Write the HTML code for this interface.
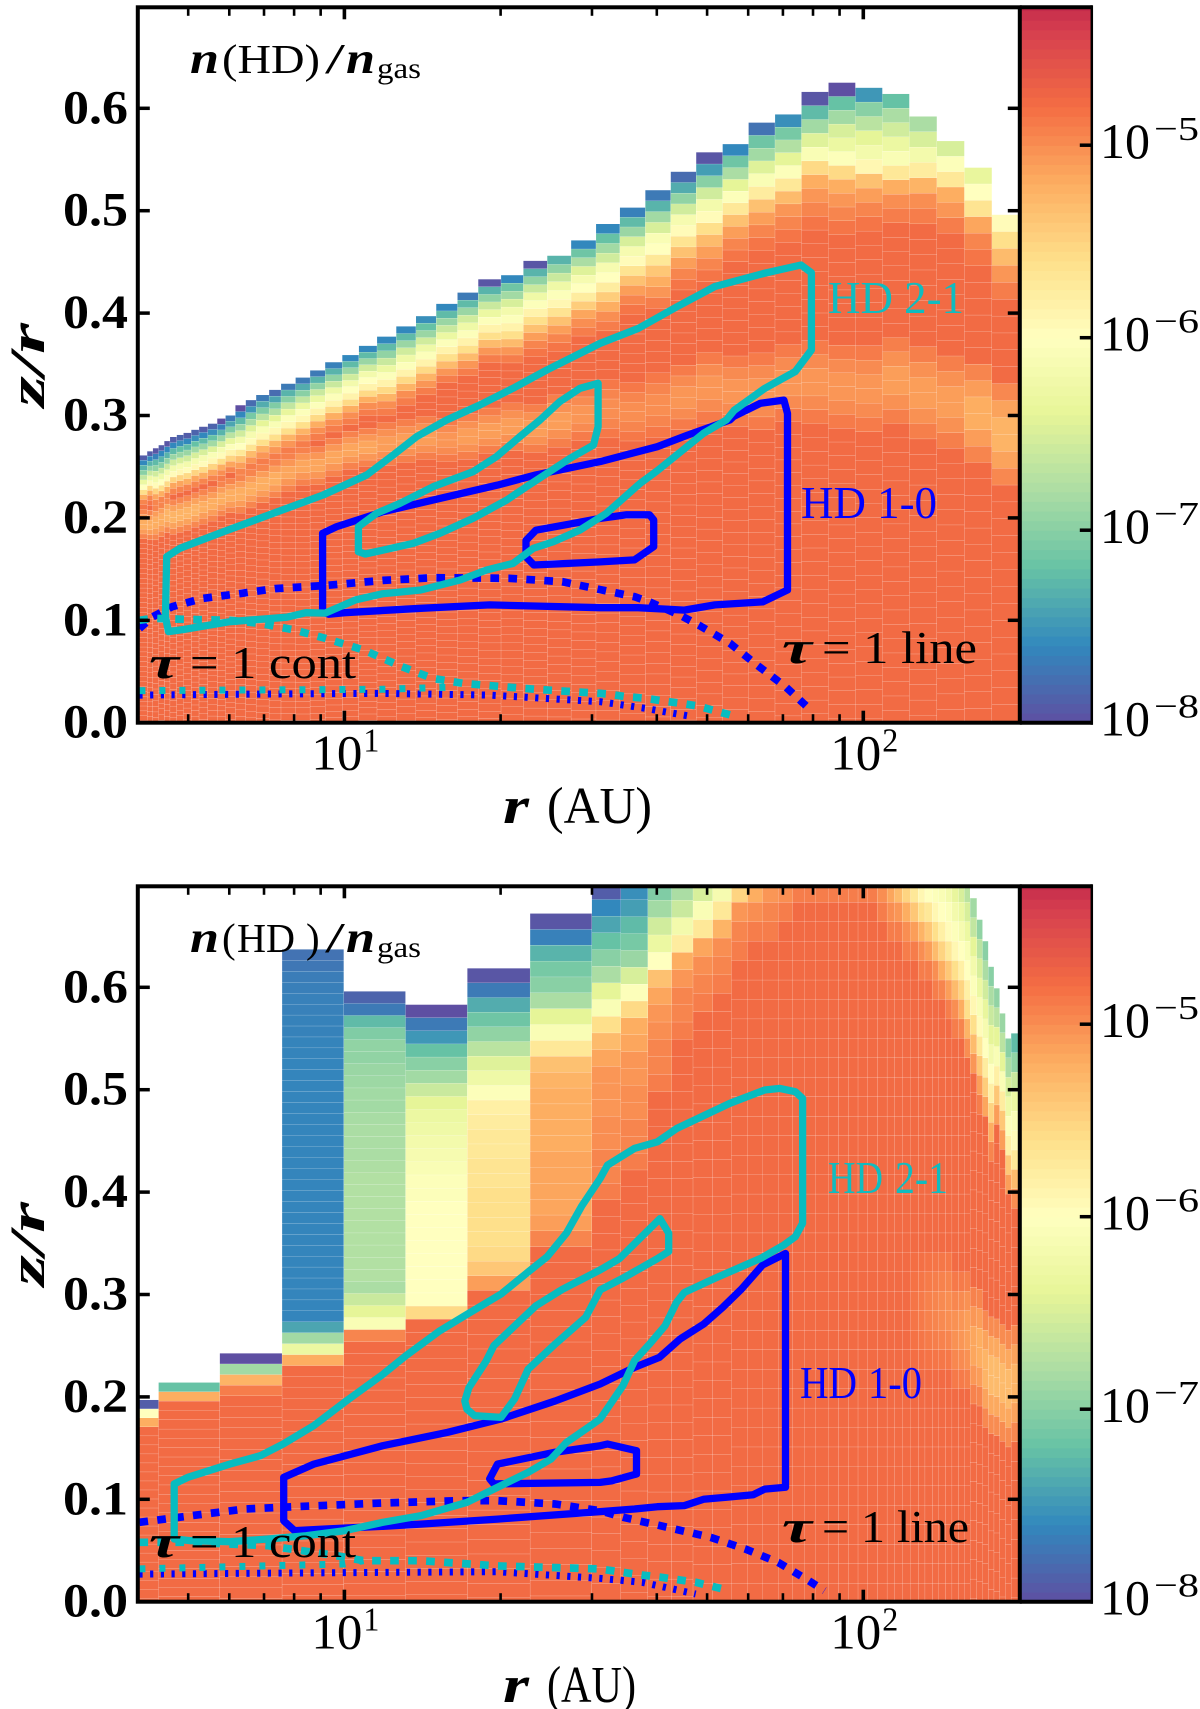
<!DOCTYPE html>
<html lang="en">
<head>
<meta charset="utf-8">
<title>HD abundance maps</title>
<style>
html,body{margin:0;padding:0;background:#fff;}
svg{display:block;}
text{font-family:"Liberation Serif","DejaVu Serif",serif;fill:#000;}
.b{font-weight:bold;}
.bi{font-weight:bold;font-style:italic;}
</style>
</head>
<body>
<svg id="figure" xmlns="http://www.w3.org/2000/svg" width="1200" height="1709" viewBox="0 0 1200 1709">
<defs>
<clipPath id="clip-top"><rect x="137.8" y="7.3" width="882" height="715.4"/></clipPath>
<clipPath id="clip-bot"><rect x="137.8" y="886.3" width="882" height="715.4"/></clipPath>
</defs>
<g id="panel-top"></g>
<g id="panel-bot"></g>

<g>
<text class="bi" x="190" y="73" font-size="44" textLength="29" lengthAdjust="spacingAndGlyphs">n</text>
<text x="222" y="73" font-size="41" textLength="98" lengthAdjust="spacingAndGlyphs">(HD)</text>
<text x="325" y="73" font-size="42" textLength="20" lengthAdjust="spacingAndGlyphs">/</text>
<text class="bi" x="346" y="73" font-size="44" textLength="29" lengthAdjust="spacingAndGlyphs">n</text>
<text x="377" y="78" font-size="30" textLength="44" lengthAdjust="spacingAndGlyphs">gas</text>
<text x="828" y="313" font-size="46" textLength="136" lengthAdjust="spacingAndGlyphs" style="fill:#10bcc0">HD 2-1</text>
<text x="801" y="518" font-size="46" textLength="136" lengthAdjust="spacingAndGlyphs" style="fill:#0000ff">HD 1-0</text>
<text class="bi" x="149" y="678" font-size="46" textLength="30" lengthAdjust="spacingAndGlyphs">τ</text>
<text x="190" y="678" font-size="46" textLength="166" lengthAdjust="spacingAndGlyphs">= 1 cont</text>
<text class="bi" x="782" y="663" font-size="46" textLength="30" lengthAdjust="spacingAndGlyphs">τ</text>
<text x="822" y="663" font-size="46" textLength="155" lengthAdjust="spacingAndGlyphs">= 1 line</text>
<text class="bi" x="503" y="823" font-size="52" textLength="26" lengthAdjust="spacingAndGlyphs">r</text>
<text x="547" y="823" font-size="52" textLength="105" lengthAdjust="spacingAndGlyphs">(AU)</text>
<text class="bi" transform="translate(44,407) rotate(-90)" font-size="50" textLength="84" lengthAdjust="spacingAndGlyphs">z/r</text>
</g>

<g>
<text class="bi" x="190" y="952" font-size="44" textLength="29" lengthAdjust="spacingAndGlyphs">n</text>
<text x="222" y="952" font-size="41">(</text>
<text x="237" y="952" font-size="41" textLength="58" lengthAdjust="spacingAndGlyphs">HD</text>
<text x="306" y="952" font-size="41">)</text>
<text x="325" y="952" font-size="42" textLength="20" lengthAdjust="spacingAndGlyphs">/</text>
<text class="bi" x="346" y="952" font-size="44" textLength="29" lengthAdjust="spacingAndGlyphs">n</text>
<text x="377" y="957" font-size="30" textLength="44" lengthAdjust="spacingAndGlyphs">gas</text>
<text x="828" y="1193" font-size="46" textLength="55" lengthAdjust="spacingAndGlyphs" style="fill:#10bcc0">HD</text>
<text x="895" y="1193" font-size="46" textLength="53" lengthAdjust="spacingAndGlyphs" style="fill:#10bcc0">2-1</text>
<text x="800" y="1398" font-size="46" textLength="57" lengthAdjust="spacingAndGlyphs" style="fill:#0000ff">HD</text>
<text x="868" y="1398" font-size="46" textLength="54" lengthAdjust="spacingAndGlyphs" style="fill:#0000ff">1-0</text>
<text class="bi" x="149" y="1557" font-size="46" textLength="30" lengthAdjust="spacingAndGlyphs">τ</text>
<text x="190" y="1557" font-size="46" textLength="166" lengthAdjust="spacingAndGlyphs">= 1 cont</text>
<text class="bi" x="782" y="1542" font-size="46" textLength="30" lengthAdjust="spacingAndGlyphs">τ</text>
<text x="822" y="1542" font-size="46" textLength="147" lengthAdjust="spacingAndGlyphs">= 1 line</text>
<text class="bi" x="503" y="1702" font-size="52" textLength="26" lengthAdjust="spacingAndGlyphs">r</text>
<text x="547" y="1702" font-size="52" textLength="89" lengthAdjust="spacingAndGlyphs">(AU)</text>
<text class="bi" transform="translate(44,1286) rotate(-90)" font-size="50" textLength="84" lengthAdjust="spacingAndGlyphs">z/r</text>
</g>
</svg>

<script>
/* ---------- shared axes ---------- */
const yTickValues = [0, 0.1, 0.2, 0.3, 0.4, 0.5, 0.6];
const yTickLabels = ['0.0', '0.1', '0.2', '0.3', '0.4', '0.5', '0.6'];
const xMajorValues = [10, 100];
const xMajorLabels = ['1', '2'];
const xMinorValues = [5, 6, 7, 8, 9, 20, 30, 40, 50, 60, 70, 80, 90];
const cbarTickExponents = [-5, -6, -7, -8];
const spectralR = [[94,79,162],[50,136,189],[102,194,165],[171,221,164],[230,245,152],[255,255,191],[254,224,139],[253,174,97],[244,109,67],[213,62,79],[158,1,66]];
const bandShape = [0.4, 0.75, 1, 1, 0.75, 0.4];
const bulkLog = -4.78;

/* ---------- top panel heatmap: column edges in log10(r/AU), ceilings in z/r, cell heights ---------- */
const topLogR = [.602,.620,.631,.642,.653,.664,.677,.690,.705,.720,.737,.755,.771,.790,.810,.830,.855,.878,.906,.934,.963,.996,1.028,1.063,1.100,1.138,1.177,1.218,1.258,1.302,1.345,1.391,1.437,1.485,1.531,1.580,1.629,1.678,1.729,1.779,1.830,1.881,1.933,1.985,2.037,2.089,2.142,2.195,2.248,2.301];
const topCeil = [.261,.265,.268,.271,.275,.279,.281,.283,.286,.289,.292,.297,.300,.310,.315,.320,.325,.331,.337,.344,.352,.359,.368,.377,.387,.397,.409,.420,.433,.437,.451,.456,.471,.487,.503,.520,.538,.557,.565,.586,.594,.616,.625,.620,.614,.592,.568,.542,.496];
const topStep = [.0048,.0048,.0056,.0056,.0056,.0056,.0056,.0056,.0056,.0056,.0056,.0056,.0056,.0062,.0062,.0062,.0062,.0062,.0062,.0062,.0062,.0062,.0062,.007,.007,.007,.007,.0074,.0074,.0078,.0078,.0085,.0085,.0095,.0095,.0105,.0105,.0115,.0115,.0125,.0125,.0135,.0135,.014,.014,.015,.015,.016,.0165];
const topBandZ = [.193,.195,.197,.199,.201,.203,.205,.207,.209,.212,.215,.218,.221,.224,.228,.233,.238,.245,.25,.254,.258,.263,.268,.272,.274,.276,.277,.279,.282,.285,.288,.292,.297,.302,.308,.313,.318,.322,.325,.327,.329,.331,.331,.330,.328,.325,.318,.305,.285];
const topBandPeak = [-5.2,-5.2,-5.2,-5.2,-5.25,-5.25,-5.25,-5.25,-5.25,-5.2,-5.2,-5.2,-5.2,-5.2,-5.2,-5.2,-5.2,-5.15,-5.15,-5.15,-5.15,-5.15,-5.15,-5.1,-5.1,-5.1,-5.05,-5.1,-5.1,-5.1,-5.1,-5.1,-5.05,-5,-5,-5,-5.05,-5.05,-5.05,-5.05,-5.05,-5.05,-5.05,-5.05,-5.1,-5.1,-5.1,-5.2,-5.25];
const topProfiles = [
[-7.9,-7.6,-7.3,-7,-6.65,-6.3,-6,-5.6,-5.2,-4.95,-4.85],
[-7.9,-7.6,-7.3,-6.95,-6.6,-6.25,-5.95,-5.55,-5.2,-4.95,-4.85],
[-7.95,-7.65,-7.25,-6.95,-6.55,-6.2,-5.95,-5.5,-5.15,-4.95],
[-7.9,-7.6,-7.3,-7,-6.6,-6.25,-6,-5.6,-5.2,-4.95],
[-7.95,-7.6,-7.3,-6.95,-6.6,-6.2,-5.95,-5.55,-5.2,-4.95],
[-7.9,-7.6,-7.25,-6.9,-6.55,-6.2,-5.95,-5.5,-5.15,-4.95],
[-7.85,-7.55,-7.2,-6.9,-6.5,-6.15,-5.9,-5.5,-5.15,-4.95],
[-7.9,-7.6,-7.25,-6.9,-6.55,-6.2,-5.95,-5.55,-5.2,-4.95],
[-7.85,-7.55,-7.2,-6.85,-6.5,-6.15,-5.9,-5.5,-5.15,-4.95],
[-7.9,-7.6,-7.25,-6.9,-6.5,-6.15,-5.95,-5.55,-5.2,-4.95],
[-7.85,-7.55,-7.2,-6.85,-6.45,-6.1,-5.9,-5.5,-5.15,-4.95],
[-8,-7.65,-7.3,-6.9,-6.5,-6.15,-5.95,-5.6,-5.2,-5,-4.9],
[-7.7,-7.4,-7.05,-6.7,-6.35,-6.05,-5.85,-5.5,-5.15,-4.95],
[-8,-7.6,-7.25,-6.9,-6.55,-6.2,-6,-5.7,-5.35,-5.1,-4.95],
[-7.8,-7.5,-7.1,-6.8,-6.45,-6.15,-5.95,-5.65,-5.3,-5.05,-4.9],
[-7.7,-7.35,-7.05,-6.7,-6.4,-6.1,-5.9,-5.6,-5.25,-5.05,-4.9],
[-7.8,-7.4,-7.05,-6.75,-6.4,-6.1,-5.9,-5.6,-5.25,-5.05,-4.9],
[-7.7,-7.3,-7,-6.65,-6.35,-6.05,-5.9,-5.6,-5.25,-5.05,-4.9],
[-7.7,-7.35,-7,-6.65,-6.3,-6.05,-5.9,-5.6,-5.25,-5.05,-4.9],
[-7.7,-7.3,-6.95,-6.6,-6.3,-6.05,-5.85,-5.55,-5.2,-5,-4.9],
[-7.65,-7.3,-6.95,-6.6,-6.25,-6.05,-5.85,-5.55,-5.2,-5,-4.9],
[-7.6,-7.25,-6.9,-6.55,-6.2,-6,-5.85,-5.55,-5.2,-5,-4.9],
[-7.6,-7.25,-6.9,-6.55,-6.2,-6,-5.85,-5.55,-5.2,-5,-4.9],
[-7.6,-7.25,-6.95,-6.6,-6.3,-6.05,-5.85,-5.55,-5.25,-5,-4.9],
[-7.6,-7.25,-6.9,-6.55,-6.25,-6.05,-5.85,-5.55,-5.25,-5,-4.9],
[-7.55,-7.2,-6.9,-6.55,-6.25,-6.05,-5.85,-5.55,-5.25,-5.05,-4.9],
[-7.6,-7.25,-6.9,-6.6,-6.3,-6.05,-5.85,-5.6,-5.3,-5.05,-4.9],
[-7.7,-7.25,-6.9,-6.55,-6.25,-6.05,-5.85,-5.6,-5.3,-5.05,-4.9],
[-7.95,-7.3,-6.95,-6.6,-6.3,-6.05,-5.85,-5.6,-5.3,-5.05,-4.9],
[-7.6,-7.15,-6.85,-6.5,-6.2,-6.05,-5.85,-5.6,-5.3,-5.05,-4.9],
[-7.95,-7.3,-6.95,-6.6,-6.25,-6.05,-5.85,-5.6,-5.35,-5.1,-4.95,-4.85],
[-7.3,-6.95,-6.6,-6.25,-6.05,-5.9,-5.65,-5.35,-5.1,-4.95,-4.85],
[-7.6,-7.15,-6.8,-6.45,-6.15,-6,-5.75,-5.45,-5.15,-5,-4.9],
[-7.6,-7.2,-6.85,-6.55,-6.15,-6,-5.75,-5.45,-5.2,-5,-4.9],
[-7.65,-7.25,-6.9,-6.5,-6.15,-5.95,-5.65,-5.35,-5.1,-4.95,-4.85],
[-7.7,-7.3,-6.85,-6.5,-6.1,-6,-5.7,-5.4,-5.2,-5.05,-4.9],
[-7.8,-7.35,-6.95,-6.55,-6.15,-5.95,-5.65,-5.35,-5.1,-4.95,-4.85],
[-7.95,-7.45,-7,-6.55,-6.2,-5.95,-5.6,-5.3,-5.1,-4.95,-4.85],
[-7.6,-7.15,-6.8,-6.4,-6.05,-5.7,-5.35,-5.1,-4.95,-4.85],
[-7.75,-7.15,-6.85,-6.45,-6.1,-5.75,-5.35,-5.1,-4.95,-4.85],
[-7.55,-7.1,-6.75,-6.4,-6.05,-5.7,-5.3,-5.05,-4.95,-4.85],
[-7.95,-7.25,-6.85,-6.45,-6.1,-5.55,-5.2,-5.05,-4.95,-4.85],
[-8,-7.2,-6.85,-6.5,-6.3,-6.05,-5.55,-5.2,-5.05,-4.95,-4.85],
[-7.5,-7,-6.7,-6.4,-6.2,-5.9,-5.35,-5.1,-4.95,-4.85],
[-7.2,-6.8,-6.55,-6.3,-6.1,-5.7,-5.2,-5,-4.9],
[-6.8,-6.5,-6.2,-5.75,-5.25,-5,-4.9],
[-6.5,-6.05,-5.7,-5.2,-5.05,-4.9],
[-6.35,-6,-5.65,-5.15,-4.95,-4.85],
[-5.95,-5.6,-5.3,-5.05,-4.9]
];

/* ---------- bottom panel heatmap ---------- */
const botLogR = [.602,.642,.760,.880,.999,1.118,1.237,1.358,1.477,1.533,1.585,1.631,1.672,1.710,1.746,1.777,1.806,1.836,1.864,1.887,1.908,1.933,1.952,1.972,1.990,2.009,2.027,2.046,2.060,2.075,2.091,2.106,2.119,2.133,2.145,2.159,2.171,2.184,2.195,2.206,2.219,2.230,2.241,2.252,2.263,2.274,2.285,2.301];
const botCeil = [.197,.214,.2425,.637,.596,.583,.6185,.672,.702,.702,.702,.702,.702,.702,.702,.702,.702,.702,.702,.702,.702,.702,.702,.702,.702,.702,.702,.702,.702,.702,.702,.702,.702,.702,.702,.702,.702,.702,.702,.687,.666,.645,.620,.599,.5745,.550,.555];
const botStep = [.0088,.0091,.0104,.0107,.0118,.0128,.0143,.0155,.0163,.0165,.017,.017,.018,.018,.019,.019,.019,.019,.019,.019,.019,.019,.019,.019,.019,.019,.019,.019,.019,.019,.019,.019,.019,.019,.019,.019,.019,.019,.019,.019,.019,.019,.019,.019,.019,.019,.019];
const botBandZ = [.2,.2,.2,.2,.2,.2,.2,.2,.2,.2,.2,.2,.2,.2,.2,.2,.2,.2,.2,.2,.2,.2,.2,.2,.2,.2,.2,.2,.2,.2,.285,.285,.28,.28,.278,.276,.274,.27,.266,.258,.246,.236,.23,.224,.218,.212,.208];
const botBandPeak = [-4.78,-4.78,-4.78,-4.78,-4.78,-4.78,-4.78,-4.78,-4.78,-4.78,-4.78,-4.78,-4.78,-4.78,-4.78,-4.78,-4.78,-4.78,-4.78,-4.78,-4.78,-4.78,-4.78,-4.78,-4.78,-4.78,-4.78,-4.78,-4.78,-4.78,-4.85,-4.88,-4.92,-4.95,-4.98,-5,-5.02,-5.05,-5.1,-5.15,-5.2,-5.25,-5.3,-5.3,-5.3,-5.3,-5.25];
const botProfiles = [
[-7.9,-6,-5.2],
[-7.2,-5.2],
[-8,-6.85,-5.25,-4.9],
[-7.75,-7.72,-7.68,-7.66,-7.65,-7.65,-7.64,-7.64,-7.63,-7.63,-7.62,-7.62,-7.62,-7.62,-7.62,-7.62,-7.62,-7.62,-7.62,-7.62,-7.62,-7.62,-7.62,-7.62,-7.62,-7.62,-7.62,-7.62,-7.62,-7.62,-7.62,-7.62,-7.62,-7.62,-7.4,-6.85,-6.3,-5.2],
[-7.85,-7.7,-7.25,-7.05,-6.95,-6.95,-6.9,-6.88,-6.85,-6.85,-6.82,-6.8,-6.8,-6.8,-6.78,-6.75,-6.75,-6.75,-6.75,-6.75,-6.75,-6.75,-6.75,-6.75,-6.8,-6.6,-6.4,-6.1,-4.95],
[-8,-7.7,-7.5,-7.2,-7,-6.85,-6.6,-6.4,-6.3,-6.25,-6.2,-6.15,-6.1,-6.05,-6.05,-6,-6,-6,-6,-6,-6,-6,-6,-5.55],
[-7.95,-7.7,-7.35,-7.15,-6.95,-6.7,-6.45,-6.25,-6.05,-5.8,-5.75,-5.7,-5.7,-5.65,-5.65,-5.6,-5.6,-5.6,-5.6,-5.55,-5.4,-5.1],
[-7.95,-7.65,-7.3,-7.1,-7,-6.8,-6.4,-6.1,-5.7,-5.35,-5.25,-5.2,-5.2,-5.2,-5.2,-5.15,-5.15,-5.15,-5.15,-5.1,-4.95],
[-7.9,-7.6,-7.4,-7.2,-7,-6.8,-6.4,-6.1,-5.6,-5.3,-5.15,-5.05,-5.05,-5.05,-5,-5,-4.95,-4.95,-4.9],
[-7.55,-7.45,-7.25,-7.1,-6.9,-6.5,-6.05,-5.55,-5.2,-5.15,-5.05,-5.05,-5,-5,-4.95,-4.95,-4.9],
[-7.05,-6.85,-6.55,-6.3,-6,-5.35,-5.15,-5.05,-5,-4.95,-4.95,-4.9],
[-6.8,-6.6,-6.2,-5.75,-5.2,-5.05,-4.95,-4.95,-4.9],
[-6.5,-6.1,-5.7,-5.15,-5,-4.95,-4.9],
[-6.15,-5.7,-5.25,-5,-4.95,-4.9],
[-5.5,-5.05,-4.95,-4.9],
[-5.2,-5,-4.9],
[-5.05,-4.95,-4.9],
[-5,-4.9],
[-4.9],[-4.9],[-4.9],[-4.9],[-4.9],[-4.9],[-4.9],[-4.9],
[-5,-4.9],
[-5.15,-5,-4.9],
[-5.3,-5.05,-4.9],
[-5.5,-5.2,-5,-4.9],
[-5.7,-5.4,-5.1,-4.9],
[-5.9,-5.6,-5.25,-5,-4.9],
[-6,-5.7,-5.4,-5.1,-4.9],
[-6.05,-5.9,-5.6,-5.3,-5,-4.9],
[-6.1,-6,-5.8,-5.5,-5.2,-4.95],
[-6.2,-6.05,-5.95,-5.7,-5.4,-5.1,-4.9],
[-6.35,-6.2,-6.05,-5.9,-5.6,-5.3,-5,-4.9],
[-6.5,-6.3,-6.15,-6,-5.8,-5.5,-5.2,-4.95],
[-6.7,-6.5,-6.3,-6.1,-6,-5.8,-5.6,-5.25,-5],
[-6.85,-6.65,-6.4,-6.2,-6.05,-5.9,-5.6,-5.3,-5.05],
[-6.95,-6.7,-6.5,-6.3,-6.1,-5.95,-5.7,-5.4,-5.1,-4.9],
[-7,-6.8,-6.55,-6.35,-6.15,-6,-5.75,-5.45,-5.15],
[-7,-6.8,-6.6,-6.4,-6.2,-6,-5.8,-5.5,-5.2,-4.95],
[-6.95,-6.7,-6.4,-6.1,-5.8,-5.4,-5.1],
[-6.9,-6.7,-6.4,-6.1,-5.75,-5.4,-5.1],
[-7,-6.8,-6.5,-6.25,-6.05,-5.8,-5.4,-5.1],
[-7.25,-6.95,-6.6,-6.3,-6.1,-5.95,-5.7,-5.3,-5]
];

/* ---------- contours: [log10(r/AU), z/r] ---------- */
const topHd21Outer = [[.6575,.1621],[.683,.1703],[.767,.1865],[.863,.2045],[.959,.2224],[1.043,.2419],[1.094,.2614],[1.139,.2793],[1.197,.2956],[1.261,.3103],[1.325,.3266],[1.390,.3444],[1.493,.3705],[1.566,.385],[1.640,.406],[1.714,.426],[1.751,.431],[1.810,.439],[1.880,.447],[1.900,.4395],[1.900,.364],[1.869,.343],[1.810,.3265],[1.751,.305],[1.736,.2956],[1.692,.2826],[1.603,.2461],[1.570,.2338],[1.505,.2045],[1.454,.1882],[1.403,.1768],[1.364,.1703],[1.325,.1556],[1.274,.1491],[1.223,.1394],[1.147,.1296],[1.074,.126],[1.022,.120],[.963,.107],[.926,.1074],[.889,.103],[.779,.0986],[.690,.091],[.661,.089],[.655,.1035]];
const topHd21Inner = [[1.027,.167],[1.027,.1914],[1.062,.2045],[1.107,.2142],[1.171,.2305],[1.248,.2451],[1.293,.2598],[1.338,.2793],[1.377,.2956],[1.415,.3135],[1.454,.3266],[1.489,.3314],[1.489,.289],[1.480,.2712],[1.435,.2582],[1.390,.2435],[1.351,.2305],[1.313,.2175],[1.248,.1996],[1.184,.185],[1.133,.1752],[1.075,.1686],[1.040,.1647]];
const topHd10Outer = [[.958,.1084],[.958,.185],[.985,.1914],[1.074,.206],[1.184,.219],[1.295,.232],[1.369,.242],[1.493,.255],[1.603,.2695],[1.662,.281],[1.743,.2956],[1.750,.299],[1.802,.312],[1.847,.315],[1.854,.302],[1.854,.1296],[1.806,.118],[1.714,.115],[1.655,.110],[1.566,.1123],[1.493,.1123],[1.280,.115],[1.147,.1117],[1.000,.1074],[.970,.106]];
const topHd10Inner = [[1.350,.162],[1.350,.178],[1.369,.188],[1.442,.1947],[1.493,.1995],[1.544,.203],[1.588,.203],[1.596,.198],[1.596,.172],[1.559,.159],[1.493,.157],[1.365,.154]];
const topTauLine10 = [[.605,.092],[.631,.1035],[.668,.1133],[.727,.1214],[.801,.1263],[.867,.131],[.963,.134],[1.074,.139],[1.170,.1416],[1.317,.141],[1.420,.1377],[1.493,.130],[1.559,.123],[1.588,.118],[1.647,.105],[1.684,.095],[1.743,.0775],[1.795,.0563],[1.850,.0352],[1.902,.0107]];
const topTauLine21 = [[.605,.100],[.631,.102],[.690,.101],[.779,.100],[.838,.097],[.904,.0905],[.963,.0824],[1.037,.071],[1.111,.0547],[1.170,.0433],[1.229,.0384],[1.310,.035],[1.369,.0326],[1.493,.0286],[1.507,.028],[1.544,.0254],[1.581,.0238],[1.614,.0212],[1.647,.019],[1.681,.0163],[1.714,.0117],[1.751,.0065]];
const topTauCont10 = [[.605,.027],[.853,.028],[1.074,.0286],[1.280,.027],[1.493,.0205],[1.581,.014],[1.670,.006]];
const topTauCont21 = [[.605,.0313],[.853,.032],[1.074,.0326],[1.221,.035]];

const botHd21Outer = [[.672,.0612],[.672,.115],[.698,.1214],[.779,.1344],[.838,.1426],[.882,.154],[.941,.172],[1.000,.1947],[1.074,.222],[1.118,.240],[1.184,.2646],[1.243,.2826],[1.302,.3005],[1.354,.322],[1.391,.337],[1.428,.360],[1.457,.386],[1.493,.4134],[1.507,.4264],[1.559,.4427],[1.603,.449],[1.640,.462],[1.743,.4867],[1.810,.4997],[1.839,.5013],[1.869,.498],[1.883,.4915],[1.883,.3695],[1.869,.3564],[1.847,.3483],[1.802,.3353],[1.714,.3158],[1.655,.302],[1.640,.2923],[1.618,.2695],[1.588,.2516],[1.559,.2354],[1.537,.211],[1.493,.1784],[1.465,.1686],[1.428,.1556],[1.398,.1393],[1.354,.1263],[1.295,.1117],[1.236,.097],[1.147,.084],[1.074,.0775],[1.000,.0693],[.926,.0645],[.853,.0612],[.779,.0586],[.705,.0596]];
const botHd21Inner = [[1.251,.1816],[1.236,.188],[1.232,.196],[1.240,.209],[1.273,.235],[1.288,.25],[1.369,.289],[1.420,.305],[1.493,.324],[1.530,.335],[1.608,.374],[1.625,.360],[1.625,.342],[1.603,.335],[1.537,.316],[1.493,.3045],[1.465,.2777],[1.406,.2516],[1.354,.227],[1.328,.198],[1.302,.18]];
const botHd10Outer = [[.883,.1214],[.941,.1344],[1.074,.1523],[1.199,.1654],[1.302,.1784],[1.406,.196],[1.493,.2126],[1.559,.2288],[1.607,.2386],[1.647,.2565],[1.692,.271],[1.729,.2874],[1.765,.3053],[1.806,.3288],[1.850,.340],[1.850,.1117],[1.810,.110],[1.788,.1045],[1.736,.102],[1.692,.100],[1.655,.0938],[1.603,.0928],[1.559,.0905],[1.493,.088],[1.295,.0807],[1.147,.0758],[1.074,.0736],[.963,.071],[.904,.0693],[.883,.079]];
const botHd10Inner = [[1.288,.115],[1.280,.12],[1.295,.1344],[1.406,.146],[1.493,.1523],[1.507,.154],[1.563,.1475],[1.563,.1247],[1.515,.118],[1.493,.1165]];
const botTauLine10 = [[.605,.0775],[.705,.084],[.808,.0905],[.912,.093],[1.074,.0964],[1.221,.0986],[1.295,.0986],[1.406,.0954],[1.493,.0889],[1.537,.0824],[1.603,.0749],[1.706,.0628],[1.773,.0514],[1.836,.0384],[1.895,.0205],[1.925,.0107]];
const botTauLine21 = [[.605,.058],[.705,.058],[.853,.0547],[.985,.0449],[1.037,.040],[1.147,.040],[1.295,.035],[1.493,.032],[1.537,.0286],[1.574,.026],[1.611,.0238],[1.677,.0189],[1.743,.0107]];
const botTauCont10 = [[.605,.027],[1.074,.0286],[1.295,.0293],[1.493,.0228],[1.574,.0189],[1.677,.0075]];
const botTauCont21 = [[.605,.032],[1.000,.0368],[1.037,.040]];

/* ---------- drawing ---------- */
const SVG_NS = 'http://www.w3.org/2000/svg';
const PLOT_LEFT = 137.8, PLOT_RIGHT = 1019.8, CBAR_RIGHT = 1091.8;
const CBAR_TOP_LOG = -4.285;
function xOfLog(v) { return 344.4 + (v - 1) * 518.9; }
function xOfR(r) { return xOfLog(Math.log10(r)); }
function colorOf(logv) {
  const t = Math.max(0, Math.min(1, (logv + 8) / 4)) * 10;
  const i = Math.min(9, Math.floor(t));
  const f = t - i;
  const a = spectralR[i], b = spectralR[i + 1];
  return 'rgb(' + [0, 1, 2].map(function (k) { return Math.round(a[k] + (b[k] - a[k]) * f); }).join(',') + ')';
}
function make(tag, parent, attrs) {
  const el = document.createElementNS(SVG_NS, tag);
  for (const key in attrs) { el.setAttribute(key, attrs[key]); }
  parent.appendChild(el);
  return el;
}
function drawHeatmap(root, yOf, logR, ceil, step, profiles, bandZ, bandPeak, clipId) {
  const g = make('g', root, { 'clip-path': 'url(#' + clipId + ')' });
  
  
  for (let c = 0; c < ceil.length; c++) {
    const x0 = xOfLog(logR[c]), x1 = xOfLog(logR[c + 1]);
    const dz = step[c];
    const lo = bandZ[c] - 3 * dz;
    for (let k = 0; ceil[c] - k * dz > 0; k++) {
      const zTop = ceil[c] - k * dz;
      const zBot = Math.max(0, zTop - dz);
      const zc = (zTop + zBot) / 2;
      let v = bulkLog;
      if (k < profiles[c].length) {
        v = profiles[c][k];
      } else {
        const b = Math.floor((zc - lo) / dz);
        if (b >= 0 && b < bandShape.length) { v = bulkLog + (bandPeak[c] - bulkLog) * bandShape[b]; }
      }
      const cell = make('rect', g, { x: x0.toFixed(2), y: yOf(zTop).toFixed(2), width: (x1 - x0 - 0.2).toFixed(2), height: (yOf(zBot) - yOf(zTop) - 0.2).toFixed(2), fill: colorOf(v) });
      
      
    }
  }
}
function drawLine(parent, yOf, pts, closed, color, width, dash, name) {
  const d = pts.map(function (p, i) { return (i ? 'L' : 'M') + xOfLog(p[0]).toFixed(1) + ' ' + yOf(p[1]).toFixed(1); }).join('') + (closed ? 'Z' : '');
  const attrs = { d: d, fill: 'none', stroke: color, 'stroke-width': width, 'stroke-linejoin': 'round' };
  if (dash) { attrs['stroke-dasharray'] = dash; }
  const path = make('path', parent, attrs);
  
  
}
function label(parent, x, y, str, size, cls, len, name) {
  const attrs = { x: x, y: y, 'font-size': size };
  if (cls) { attrs['class'] = cls; }
  if (len) { attrs.textLength = len; attrs.lengthAdjust = 'spacingAndGlyphs'; }
  const t = make('text', parent, attrs);
  t.textContent = str;
  
  
}
function tick(parent, x1, y1, x2, y2, w, name) {
  const l = make('line', parent, { x1: x1, y1: y1, x2: x2, y2: y2, stroke: '#000', 'stroke-width': w });
  
  
}
function drawPanel(rootId, base, clipId, logR, ceil, step, profiles, bandZ, bandPeak, lines) {
  const root = document.getElementById(rootId);
  const top = base - 715.4;
  const yOf = function (z) { return base - z * 1024; };
  const yCb = function (e) { return base - (e + 8) * 192.5; };

  drawHeatmap(root, yOf, logR, ceil, step, profiles, bandZ, bandPeak, clipId);

  const lineGroup = make('g', root, { 'clip-path': 'url(#' + clipId + ')' });
  
  
  drawLine(lineGroup, yOf, lines.tauCont10, false, '#0000ff', 7, '3.2 7.5', 'tau-1-continuum-hd10');
  drawLine(lineGroup, yOf, lines.tauCont21, false, '#08bcc0', 7, '6 14', 'tau-1-continuum-hd21');
  drawLine(lineGroup, yOf, lines.tauLine10, false, '#0000ff', 7.7, '8.7 9.3', 'tau-1-line-hd10');
  drawLine(lineGroup, yOf, lines.tauLine21, false, '#08bcc0', 7.7, '8.7 9.3', 'tau-1-line-hd21');
  drawLine(lineGroup, yOf, lines.hd10Outer, true, '#0000ff', 7.3, null, 'hd10-contour-outer');
  drawLine(lineGroup, yOf, lines.hd10Inner, true, '#0000ff', 7.3, null, 'hd10-contour-inner');
  drawLine(lineGroup, yOf, lines.hd21Outer, true, '#08bcc0', 7.3, null, 'hd21-contour-outer');
  drawLine(lineGroup, yOf, lines.hd21Inner, true, '#08bcc0', 7.3, null, 'hd21-contour-inner');

  /* colorbar */
  const bar = make('g', root, {});
  
  
  for (let v = -8; v < CBAR_TOP_LOG; v += 0.05) {
    const y1 = Math.max(top, yCb(v + 0.05));
    const seg = make('rect', bar, { x: PLOT_RIGHT, y: y1.toFixed(2), width: CBAR_RIGHT - PLOT_RIGHT, height: (yCb(v) - y1 + 0.6).toFixed(2), fill: colorOf(v + 0.025) });
    
    
  }
  tick(bar, CBAR_RIGHT, top - 2, CBAR_RIGHT, base + 2, 2.5, 'colorbar-right-edge');
  tick(bar, PLOT_RIGHT, top, CBAR_RIGHT, top, 4, 'colorbar-top-edge');
  tick(bar, PLOT_RIGHT, base, CBAR_RIGHT + 1, base, 4, 'colorbar-bottom-edge');
  cbarTickExponents.forEach(function (e) {
    const y = yCb(e);
    tick(bar, CBAR_RIGHT - 12, y, CBAR_RIGHT, y, 3.5, 'colorbar-tick');
    label(bar, 1100, y + 13, '10', 50, '', 50, 'colorbar-tick-label');
    label(bar, 1154, y - 5, '\u2212' + Math.abs(e), 34, '', 45, 'colorbar-tick-exponent');
  });

  /* axes frame */
  const frame = make('rect', root, { x: PLOT_LEFT, y: top, width: PLOT_RIGHT - PLOT_LEFT, height: 715.4, fill: 'none', stroke: '#000', 'stroke-width': 4 });
  
  

  /* y ticks */
  yTickValues.forEach(function (v, i) {
    const y = yOf(v);
    if (i > 0) {
      tick(root, PLOT_LEFT, y, PLOT_LEFT + 12, y, 3.5, 'y-tick-left');
      tick(root, PLOT_RIGHT - 12, y, PLOT_RIGHT, y, 3.5, 'y-tick-right');
    }
    label(root, 63, y + 15, yTickLabels[i], 48, 'b', 65, 'y-tick-label');
  });
  /* x ticks */
  xMinorValues.forEach(function (r) {
    const x = xOfR(r);
    tick(root, x, top, x, top + 8.5, 2.6, 'x-minor-tick-top');
    tick(root, x, base - 8.5, x, base, 2.6, 'x-minor-tick-bottom');
  });
  xMajorValues.forEach(function (r, i) {
    const x = xOfR(r);
    tick(root, x, top, x, top + 12, 3.6, 'x-major-tick-top');
    tick(root, x, base - 12, x, base, 3.6, 'x-major-tick-bottom');
    label(root, x - 33, base + 47, '10', 50, '', 51, 'x-tick-label');
    label(root, x + 19, base + 29, xMajorLabels[i], 34, '', 16, 'x-tick-exponent');
  });
}

drawPanel('panel-top', 722.7, 'clip-top', topLogR, topCeil, topStep, topProfiles, topBandZ, topBandPeak, {
  hd21Outer: topHd21Outer, hd21Inner: topHd21Inner, hd10Outer: topHd10Outer, hd10Inner: topHd10Inner,
  tauLine10: topTauLine10, tauLine21: topTauLine21, tauCont10: topTauCont10, tauCont21: topTauCont21
});
drawPanel('panel-bot', 1601.7, 'clip-bot', botLogR, botCeil, botStep, botProfiles, botBandZ, botBandPeak, {
  hd21Outer: botHd21Outer, hd21Inner: botHd21Inner, hd10Outer: botHd10Outer, hd10Inner: botHd10Inner,
  tauLine10: botTauLine10, tauLine21: botTauLine21, tauCont10: botTauCont10, tauCont21: botTauCont21
});
</script>
</body>
</html>
